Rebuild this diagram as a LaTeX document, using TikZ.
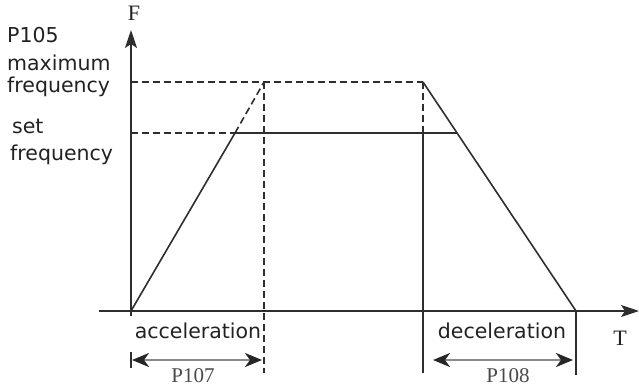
\documentclass[tikz,border=0pt]{standalone}
\usepackage{fontspec}
\usetikzlibrary{arrows.meta}
\newfontfamily\labfont{DejaVu Sans}
\newfontfamily\serfont{Liberation Serif}
\definecolor{ln}{HTML}{2E2E2E}
\definecolor{tx}{HTML}{222222}
\definecolor{pg}{HTML}{4A4A4A}
\definecolor{sh}{HTML}{8A8A8A}
\tikzset{
  curve/.style={draw=ln, line width=1.6pt},
  guide/.style={draw=ln, line width=1.6pt, dash pattern=on 7pt off 4pt},
  axis/.style={draw=ln, line width=1.6pt, -{Stealth[length=18pt,width=12pt,inset=4pt]}},
  span/.style={draw=sh, line width=2.4pt, {Stealth[length=17pt,width=14pt,inset=5pt,color=black!85]}-{Stealth[length=17pt,width=14pt,inset=5pt,color=black!85]}},
  lab/.style={font=\labfont\fontsize{20.5}{24}\selectfont, text=tx, inner sep=0pt},
  ser/.style={font=\serfont\fontsize{21}{24}\selectfont, text=pg, inner sep=0pt},
}
\begin{document}
\begin{tikzpicture}[x=1pt,y=-1pt]
\useasboundingbox (0,0) rectangle (639,386);
% axes
\coordinate (O) at (131,311);
\coordinate (Ytop) at (131,30);
\coordinate (Ybot) at (131,316);
\coordinate (Xl) at (99,311);
\coordinate (Xr) at (639,311);
\draw[axis] (Ybot) -- (Ytop);
\draw[axis] (Xl) -- (Xr);
% key points
\coordinate (M0) at (131,82);
\coordinate (A) at (264,82);
\coordinate (B) at (423,82);
\coordinate (S0) at (131,133);
\coordinate (Sa) at (235,133);
\coordinate (Sm) at (423,133);
\coordinate (Sb) at (457,133);
\coordinate (E) at (576,311);
\coordinate (Ad) at (264,373);
\coordinate (Bd) at (423,373);
\coordinate (Ed) at (576,375);
% dashed guides
\draw[guide] (M0) -- (B);
\draw[guide] (S0) -- (Sa);
\draw[guide] (Sa) -- (A);
\draw[guide] (A) -- (Ad);
\draw[guide] (B) -- (Sm);
% solid curve
\draw[curve] (O) -- (Sa);
\draw[curve] (Sa) -- (Sb);
\draw[curve] (B) -- (E);
\draw[curve] (Sm) -- (Bd);
\draw[curve] (E) -- (Ed);
% tick at origin
\coordinate (Tk1) at (131,352);
\coordinate (Tk2) at (131,368);
\draw[curve] (Tk1) -- (Tk2);
% spans
\coordinate (P1l) at (132,360);
\coordinate (P1r) at (262,360);
\coordinate (P2l) at (433,360);
\coordinate (P2r) at (573,360);
\draw[span] (P1l) -- (P1r);
\draw[span] (P2l) -- (P2r);
% labels
\node[ser, text=tx, font=\serfont\fontsize{22}{24}\selectfont] (F) at (134,13) {F};
\node[ser, text=tx, font=\serfont\fontsize{22}{24}\selectfont] (T) at (620,338) {T};
\node[lab, anchor=base] (acc) at (198,338) {acceleration};
\node[lab, anchor=base] (dec) at (502,338) {deceleration};
\node[ser, anchor=base] (p107) at (193,382) {P107};
\node[ser, anchor=base] (p108) at (508,382) {P108};
\node[lab, anchor=base west] (l1) at (7,42) {P105};
\node[lab, anchor=base west] (l2) at (7,70) {maximum};
\node[lab, anchor=base west] (l3) at (7,92) {frequency};
\node[lab, anchor=base west] (l4) at (12,133) {set};
\node[lab, anchor=base west] (l5) at (10,160) {frequency};
\end{tikzpicture}
\end{document}
